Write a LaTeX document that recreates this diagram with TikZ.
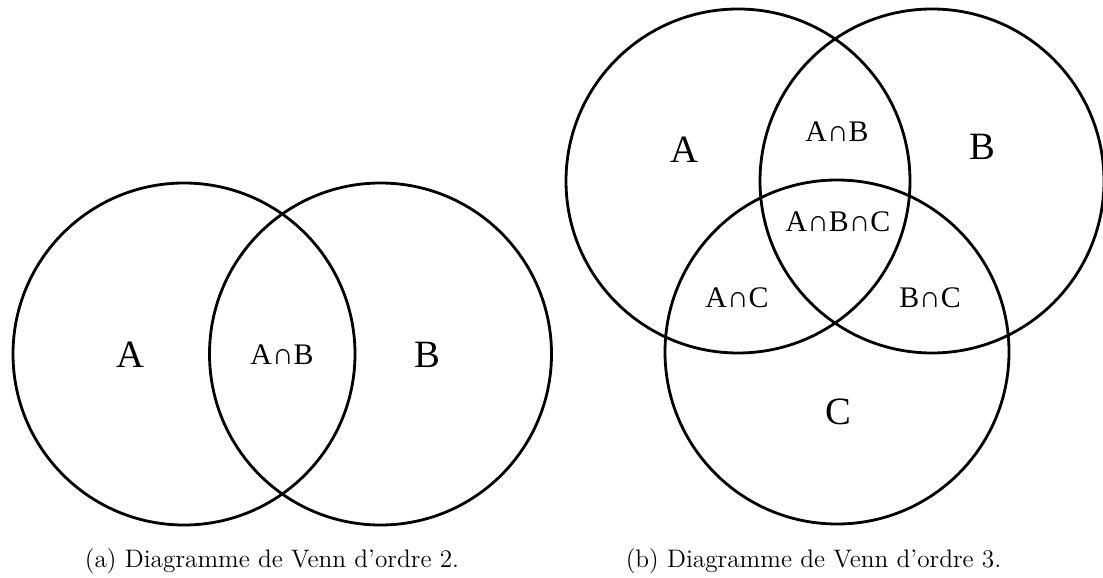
\documentclass[tikz,border=0pt]{standalone}
\usepackage{fontspec}
\newfontfamily\lblfont{Liberation Serif}
\usepackage{tikz}
\usetikzlibrary{positioning}
\tikzset{
  venn/.style   = {circle, draw, line width=1.6pt, inner sep=0pt},
  bigset/.style = {font=\lblfont\fontsize{22}{24}\selectfont, inner sep=0pt},
  inter/.style  = {font=\lblfont\fontsize{17}{19}\selectfont, inner sep=0pt},
  capt/.style   = {anchor=base, inner sep=0pt, font=\fontsize{14.4}{17}\selectfont},
}

\begin{document}
\begin{tikzpicture}[x=1cm,y=1cm]
  \useasboundingbox (0,0) rectangle (22.06,11.54);
  % ordre 2
  \node[venn, minimum size=6.84cm] (a1) at (3.68,4.46) {};
  \node[venn, minimum size=6.84cm] (b1) at (7.61,4.46) {};
  \node[bigset] (la1) at (2.60,4.44) {A};
  \node[inter] (lab1) at (5.64,4.44) {A∩B};
  \node[bigset] (lb1) at (8.54,4.44) {B};
  % ordre 3
  \node[venn, minimum size=6.88cm] (a2) at (14.76,7.92) {};
  \node[venn, minimum size=6.88cm] (b2) at (18.64,7.92) {};
  \node[venn, minimum size=6.88cm] (c2) at (16.74,4.50) {};
  \node[bigset] (la2) at (13.68,8.54) {A};
  \node[inter] (lab2) at (16.74,8.90) {A∩B};
  \node[bigset] (lb2) at (19.64,8.60) {B};
  \node[inter] (labc2) at (16.76,7.10) {A∩B∩C};
  \node[inter] (lac2) at (14.74,5.58) {A∩C};
  \node[inter] (lbc2) at (18.60,5.58) {B∩C};
  \node[bigset] (lc2) at (16.76,3.30) {C};
  % legendes
  \node[capt] (capa) at (5.44,0.20) {(a) Diagramme de Venn d'ordre 2.};
  \node[capt] (capb) at (16.27,0.20) {(b) Diagramme de Venn d'ordre 3.};
\end{tikzpicture}
\end{document}
